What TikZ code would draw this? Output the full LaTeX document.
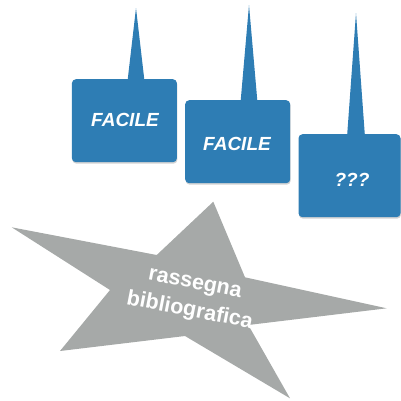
\documentclass[tikz,border=0pt]{standalone}
\usepackage{fontspec}
\setmainfont{Liberation Sans}
\usetikzlibrary{shadows}
\definecolor{boxblue}{RGB}{46,125,180}
\definecolor{stargray}{RGB}{166,169,168}
\tikzset{
  card/.style={fill=boxblue, rounded corners=4pt, minimum width=105pt, minimum height=83pt,
    inner sep=0pt, drop shadow={shadow xshift=0.5pt, shadow yshift=-1.5pt, opacity=0.35}},
  spike/.style={fill=boxblue},
  cardtxt/.style={text=white, font=\fontsize{19}{22}\selectfont\bfseries\itshape},
  startxt/.style={text=white, font=\fontsize{21.5}{28}\selectfont\bfseries, align=center, rotate=-11}
}
\begin{document}
\begin{tikzpicture}[x=1pt,y=-1pt]
\useasboundingbox (0,0) rectangle (401,400);
% star
\fill[stargray] (11.7,227.3) -- (156.7,255) -- (213.3,201.7) -- (245,277.3) -- (386.7,308.3)
  -- (248.3,325) -- (290,398.3) -- (185,336) -- (60,351) -- (110,290) -- cycle;
\node[startxt] (star) at (192,299) {rassegna\\bibliografica};
% box 1
\node[card, anchor=north west] (b1) at (71.7,79) {};
\fill[spike] ([xshift=-8.3pt,yshift=-0.5pt]b1.north -| 136,0) -- (136,8) coordinate (b1t) -- ([xshift=8.3pt,yshift=-0.5pt]b1.north -| 136,0) -- cycle;
\node[cardtxt] (t1) at (125,120) {FACILE};
% box 2
\node[card, anchor=north west] (b2) at (185,100) {};
\fill[spike] ([xshift=-8.3pt,yshift=-0.5pt]b2.north -| 249,0) -- (249,5) coordinate (b2t) -- ([xshift=8.3pt,yshift=-0.5pt]b2.north -| 249,0) -- cycle;
\node[cardtxt] (t2) at (237,144) {FACILE};
% box 3
\node[card, anchor=north west, minimum width=102pt] (b3) at (298.3,134) {};
\fill[spike] ([xshift=-8.8pt,yshift=-0.5pt]b3.north -| 356,0) -- (356,13) coordinate (b3t) -- ([xshift=8.8pt,yshift=-0.5pt]b3.north -| 356,0) -- cycle;
\node[cardtxt] (t3) at (352,180) {???};
\end{tikzpicture}
\end{document}
